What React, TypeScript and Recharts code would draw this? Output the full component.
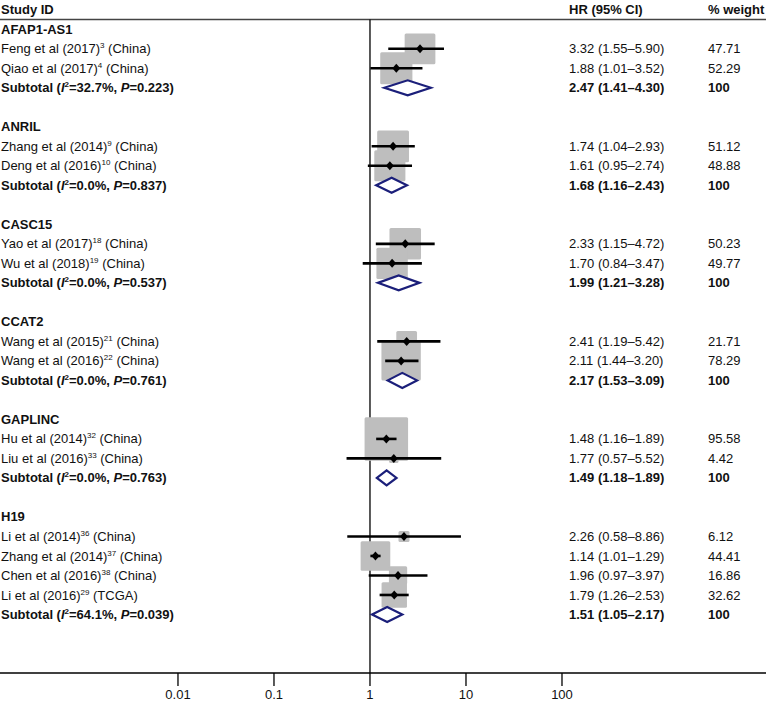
import React from "react";
import { ComposedChart, Scatter, XAxis, YAxis, ReferenceLine } from "recharts";

// subgroups and their pooled results
const groupNames = ["AFAP1-AS1", "ANRIL", "CASC15", "CCAT2", "GAPLINC", "H19"];
const subtotalI2 = ["32.7", "0.0", "0.0", "0.0", "0.0", "64.1"];
const subtotalP = ["0.223", "0.837", "0.537", "0.761", "0.763", "0.039"];
const subtotalHR = [2.47, 1.68, 1.99, 2.17, 1.49, 1.51];
const subtotalLower = [1.41, 1.16, 1.21, 1.53, 1.18, 1.05];
const subtotalUpper = [4.3, 2.43, 3.28, 3.09, 1.89, 2.17];

// individual studies
const studyNames = [
  "Feng et al (2017)", "Qiao et al (2017)", "Zhang et al (2014)", "Deng et al (2016)",
  "Yao et al (2017)", "Wu et al (2018)", "Wang et al (2015)", "Wang et al (2016)",
  "Hu et al (2014)", "Liu et al (2016)", "Li et al (2014)", "Zhang et al (2014)",
  "Chen et al (2016)", "Li et al (2016)",
];
const studyRefs = ["3", "4", "9", "10", "18", "19", "21", "22", "32", "33", "36", "37", "38", "29"];
const studySources = [
  "China", "China", "China", "China", "China", "China", "China",
  "China", "China", "China", "China", "China", "China", "TCGA",
];
const studyGroup = [0, 0, 1, 1, 2, 2, 3, 3, 4, 4, 5, 5, 5, 5];
const studyHR = [3.32, 1.88, 1.74, 1.61, 2.33, 1.7, 2.41, 2.11, 1.48, 1.77, 2.26, 1.14, 1.96, 1.79];
const studyLower = [1.55, 1.01, 1.04, 0.95, 1.15, 0.84, 1.19, 1.44, 1.16, 0.57, 0.58, 1.01, 0.97, 1.26];
const studyUpper = [5.9, 3.52, 2.93, 2.74, 4.72, 3.47, 5.42, 3.2, 1.89, 5.52, 8.86, 1.29, 3.97, 2.53];
const studyWeight = [47.71, 52.29, 51.12, 48.88, 50.23, 49.77, 21.71, 78.29, 95.58, 4.42, 6.12, 44.41, 16.86, 32.62];

const xTicks = [0.01, 0.1, 1, 10, 100];
const xDomain = [0.00014, 13335];

const FONT = "'Liberation Sans', Arial, Helvetica, sans-serif";
const NAVY = "#1b1f7a";
const BOX = "#bebebe";

type Row = { row: number; hr: number; kind: "header" | "group" | "study" | "subtotal"; index: number };

// lay the rows out top to bottom: group title, studies, subtotal, blank line
const rows: Row[] = [{ row: -1, hr: 1, kind: "header", index: 0 }];
const studyPoints: { row: number; hr: number; weight: number }[] = [];
const ciSegments: { row: number; hr: number }[][] = [];
const diamonds: { row: number; hr: number }[][] = [];
let r = 0;
groupNames.forEach((_, gi) => {
  rows.push({ row: r++, hr: 1, kind: "group", index: gi });
  studyGroup.forEach((g, si) => {
    if (g !== gi) return;
    const row = r++;
    rows.push({ row, hr: 1, kind: "study", index: si });
    studyPoints.push({ row, hr: studyHR[si], weight: studyWeight[si] });
    ciSegments.push([
      { row, hr: studyLower[si] },
      { row, hr: studyUpper[si] },
    ]);
  });
  const row = r++;
  rows.push({ row, hr: 1, kind: "subtotal", index: gi });
  diamonds.push([
    { row, hr: subtotalLower[gi] },
    { row, hr: subtotalHR[gi] },
    { row, hr: subtotalUpper[gi] },
  ]);
  r++;
});

const fmtCI = (hr: number, lo: number, hi: number) =>
  `${hr.toFixed(2)} (${lo.toFixed(2)}–${hi.toFixed(2)})`;

const COL_HR = 569;
const COL_W = 708;

function RowText(props: any) {
  const { cy, payload } = props;
  const item = payload as Row;
  const base = { y: cy, dy: "0.35em", fontFamily: FONT, fontSize: 13, fill: "#111" };
  if (item.kind === "header") {
    return (
      <g>
        <text {...base} x={1} fontWeight="bold">Study ID</text>
        <text {...base} x={COL_HR} fontWeight="bold">HR (95% CI)</text>
        <text {...base} x={COL_W} fontWeight="bold">% weight</text>
      </g>
    );
  }
  if (item.kind === "group") {
    return <text {...base} x={1} fontWeight="bold">{groupNames[item.index]}</text>;
  }
  if (item.kind === "study") {
    const i = item.index;
    return (
      <g>
        <text {...base} x={1}>
          {studyNames[i]}
          <tspan dy={-5} fontSize={8}>{studyRefs[i]}</tspan>
          <tspan dy={5}> ({studySources[i]})</tspan>
        </text>
        <text {...base} x={COL_HR}>{fmtCI(studyHR[i], studyLower[i], studyUpper[i])}</text>
        <text {...base} x={COL_W}>{studyWeight[i].toFixed(2)}</text>
      </g>
    );
  }
  const g = item.index;
  return (
    <g>
      <text {...base} x={1} fontWeight="bold">
        Subtotal (<tspan fontStyle="italic">I</tspan>
        <tspan dy={-5} fontSize={8}>2</tspan>
        <tspan dy={5}>={subtotalI2[g]}%, </tspan>
        <tspan fontStyle="italic">P</tspan>={subtotalP[g]})
      </text>
      <text {...base} x={COL_HR} fontWeight="bold">
        {fmtCI(subtotalHR[g], subtotalLower[g], subtotalUpper[g])}
      </text>
      <text {...base} x={COL_W} fontWeight="bold">100</text>
    </g>
  );
}

function WeightBox(props: any) {
  const { cx, cy, payload } = props;
  const side = 4.45 * Math.sqrt(payload.weight);
  return <rect x={cx - side / 2} y={cy - side / 2} width={side} height={side} rx={1.5} fill={BOX} />;
}

function PointMarker(props: any) {
  const { cx, cy } = props;
  return <polygon points={`${cx - 4},${cy} ${cx},${cy - 4.5} ${cx + 4},${cy} ${cx},${cy + 4.5}`} fill="#000" />;
}

function CILine(props: any) {
  const pts = props.points as { x: number; y: number }[];
  if (!pts || pts.length < 2) return null;
  return <line x1={pts[0].x} y1={pts[0].y} x2={pts[1].x} y2={pts[1].y} stroke="#000" strokeWidth={2.6} />;
}

function Diamond(props: any) {
  const pts = props.points as { x: number; y: number }[];
  if (!pts || pts.length < 3) return null;
  const [lo, mid, hi] = pts;
  const h = 7.5;
  const d = `M${lo.x},${lo.y} L${mid.x},${mid.y - h} L${hi.x},${hi.y} L${mid.x},${mid.y + h} Z`;
  return <path d={d} fill="#fff" stroke={NAVY} strokeWidth={2.2} strokeLinejoin="miter" />;
}

function XTick(props: any) {
  const { x, y, payload } = props;
  return (
    <text x={x} y={y} dy="0.71em" textAnchor="middle" fontFamily={FONT} fontSize={13} fill="#111">
      {String(payload.value)}
    </text>
  );
}

const Empty = () => <g />;

export default function App() {
  return (
    <div style={{ position: "absolute", left: 0, top: 0, background: "#fff" }}>
      <ComposedChart width={766} height={702} margin={{ top: 0, right: 0, bottom: 0, left: 0 }}>
        <XAxis
          type="number"
          dataKey="hr"
          scale="log"
          domain={xDomain}
          allowDataOverflow
          ticks={xTicks}
          interval={0}
          height={29}
          tickSize={13}
          tickMargin={4}
          axisLine={{ stroke: "#000", strokeWidth: 1.3 }}
          tickLine={{ stroke: "#000", strokeWidth: 1.3 }}
          tick={<XTick />}
        />
        <YAxis type="number" dataKey="row" reversed domain={[-1.5, 33]} allowDataOverflow hide />
        <ReferenceLine y={-0.5} stroke="#444" strokeWidth={1.5} />
        <ReferenceLine
          segment={[{ x: 1, y: -0.5 }, { x: 1, y: 33 }]}
          stroke="#000"
          strokeWidth={1.3}
        />
        <Scatter data={studyPoints} shape={<WeightBox />} isAnimationActive={false} />
        {ciSegments.map((s, i) => (
          <Scatter
            key={`ci-${i}`}
            data={s}
            shape={<Empty />}
            line={(p: any) => <CILine {...p} />}
            isAnimationActive={false}
          />
        ))}
        <Scatter data={studyPoints} shape={<PointMarker />} isAnimationActive={false} />
        {diamonds.map((d, i) => (
          <Scatter
            key={`dm-${i}`}
            data={d}
            shape={<Empty />}
            line={(p: any) => <Diamond {...p} />}
            isAnimationActive={false}
          />
        ))}
        <Scatter data={rows} shape={<RowText />} isAnimationActive={false} />
      </ComposedChart>
    </div>
  );
}
